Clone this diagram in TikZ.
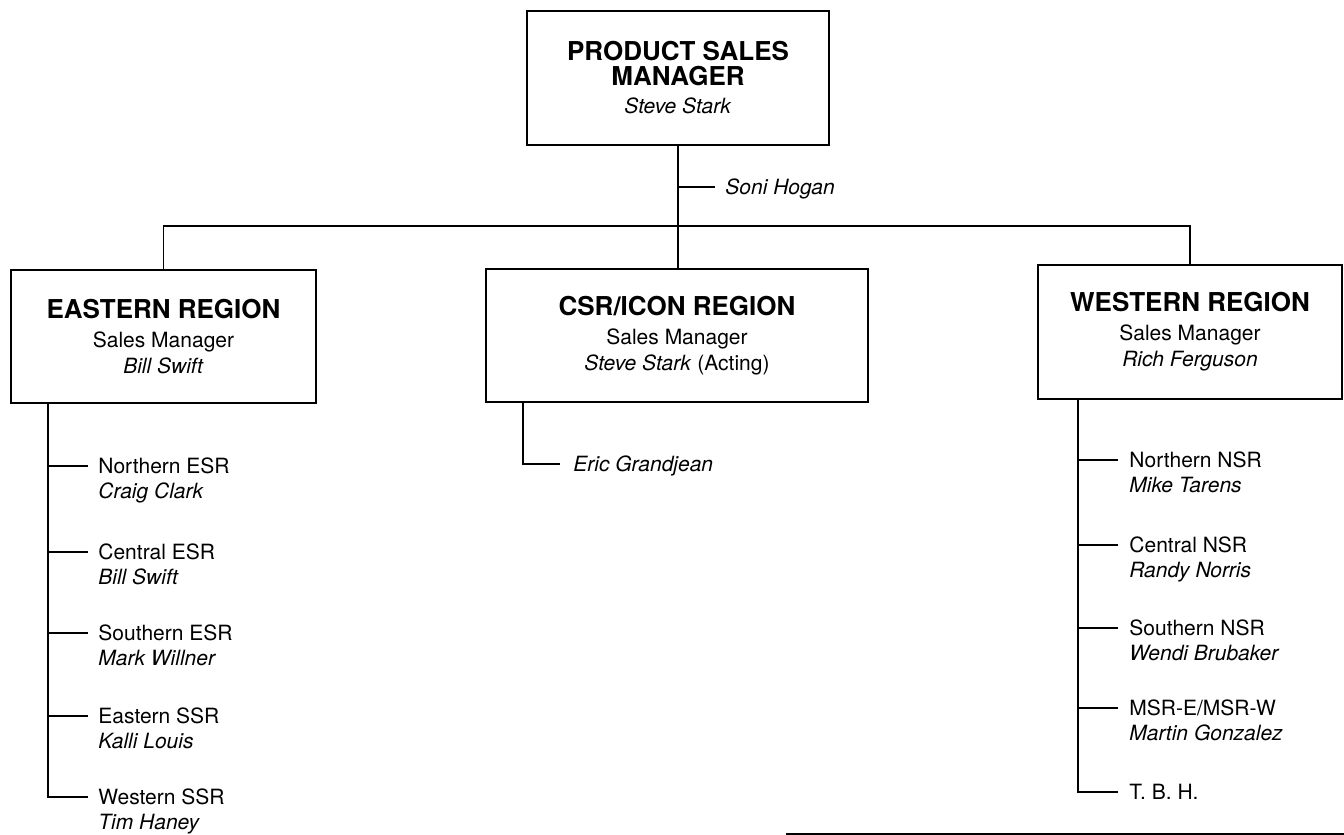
\documentclass[tikz,border=0pt]{standalone}
\usepackage{fontspec}
\setmainfont{TeX Gyre Heros}
\usetikzlibrary{positioning}
\newcommand{\unitTitle}[1]{{\fontsize{13}{14}\selectfont\bfseries #1}}
\tikzset{
  link/.style={draw=black,line width=0.7pt},
  unit/.style={draw=black,line width=1pt,align=center,inner sep=0pt,
               minimum height=66.5pt},
}
\begin{document}
\begin{tikzpicture}[x=0.5pt,y=-0.5pt,
          every node/.style={font=\fontsize{10.5}{13}\selectfont,text=black},
          role/.style={inner sep=0pt,anchor=west,
                       text height=7.5pt,text depth=0pt},
          who/.style={inner sep=0pt,anchor=base west,
                      font=\fontsize{10.5}{13}\selectfont\itshape},
        ]
        \useasboundingbox (0,0) rectangle (1344,835);
        % units
        \node[unit,minimum width=151pt,minimum height=67pt] (psm) at (678,78)
              {\unitTitle{PRODUCT SALES}\\[-0.5pt]\unitTitle{MANAGER}\\[1pt]\textit{Steve Stark}};
        \node[unit,minimum width=152.5pt] (east) at (163.5,336.5)
              {\unitTitle{EASTERN REGION}\\[1.5pt]Sales Manager\\\textit{Bill Swift}};
        \node[unit,minimum width=191pt] (csr) at (677,335.5)
              {\unitTitle{CSR/ICON REGION}\\[1.5pt]Sales Manager\\\textit{Steve Stark} (Acting)};
        \node[unit,minimum width=152pt,minimum height=67pt] (west) at (1190,332)
              {\unitTitle{WESTERN REGION}\\[1.5pt]Sales Manager\\\textit{Rich Ferguson}};
        \coordinate (bar) at (678,226);
        \draw[link] (psm.south) -- (psm.south |- csr.north);
        \draw[link] (east.north) |- (bar) -| (west.north);
        \node[role,font=\fontsize{10.5}{13}\selectfont\itshape] (aide) at (725,187) {Soni Hogan};
        \draw[link] (aide.west -| psm.south) -- ([xshift=-5pt]aide.west);
        % eastern region
        \coordinate (etop) at (east.south -| 48,0);
        \node[role] (er1) at (98,466) {Northern ESR};
        \node[role] (er2) at (98,552) {Central ESR};
        \node[role] (er3) at (98,633) {Southern ESR};
        \node[role] (er4) at (98,716) {Eastern SSR};
        \node[role] (er5) at (98,797) {Western SSR};
        \node[who] (en1) at ([yshift=-12.5pt]er1.base west) {Craig Clark};
        \node[who] (en2) at ([yshift=-12.5pt]er2.base west) {Bill Swift};
        \node[who] (en3) at ([yshift=-12.5pt]er3.base west) {Mark Willner};
        \node[who] (en4) at ([yshift=-12.5pt]er4.base west) {Kalli Louis};
        \node[who] (en5) at ([yshift=-12.5pt]er5.base west) {Tim Haney};
        \draw[link] (etop) |- ([xshift=-5pt]er5.west);
        \foreach \r in {er1,er2,er3,er4}
          \draw[link] (\r.west -| etop) -- ([xshift=-5pt]\r.west);
        % csr/icon region
        \coordinate (ctop) at (csr.south -| 523,0);
        \node[role,font=\fontsize{10.5}{13}\selectfont\itshape] (cr1) at (573,464) {Eric Grandjean};
        \draw[link] (ctop) |- ([xshift=-6.5pt]cr1.west);
        % western region
        \coordinate (wtop) at (west.south -| 1078,0);
        \node[role] (wr1) at (1129,460) {Northern NSR};
        \node[role] (wr2) at (1129,545) {Central NSR};
        \node[role] (wr3) at (1129,628) {Southern NSR};
        \node[role] (wr4) at (1129,708) {MSR-E/MSR-W};
        \node[role] (wr5) at (1129,792) {T. B. H.};
        \node[who] (wn1) at ([yshift=-12.5pt]wr1.base west) {Mike Tarens};
        \node[who] (wn2) at ([yshift=-12.5pt]wr2.base west) {Randy Norris};
        \node[who] (wn3) at ([yshift=-12.5pt]wr3.base west) {Wendi Brubaker};
        \node[who] (wn4) at ([yshift=-12.5pt]wr4.base west) {Martin Gonzalez};
        \draw[link] (wtop) |- ([xshift=-5.5pt]wr5.west);
        \foreach \r in {wr1,wr2,wr3,wr4}
          \draw[link] (\r.west -| wtop) -- ([xshift=-5.5pt]\r.west);
        % page rule
        \draw[line width=1pt] (786,834) -- (1344,834);
      \end{tikzpicture}
\end{document}
